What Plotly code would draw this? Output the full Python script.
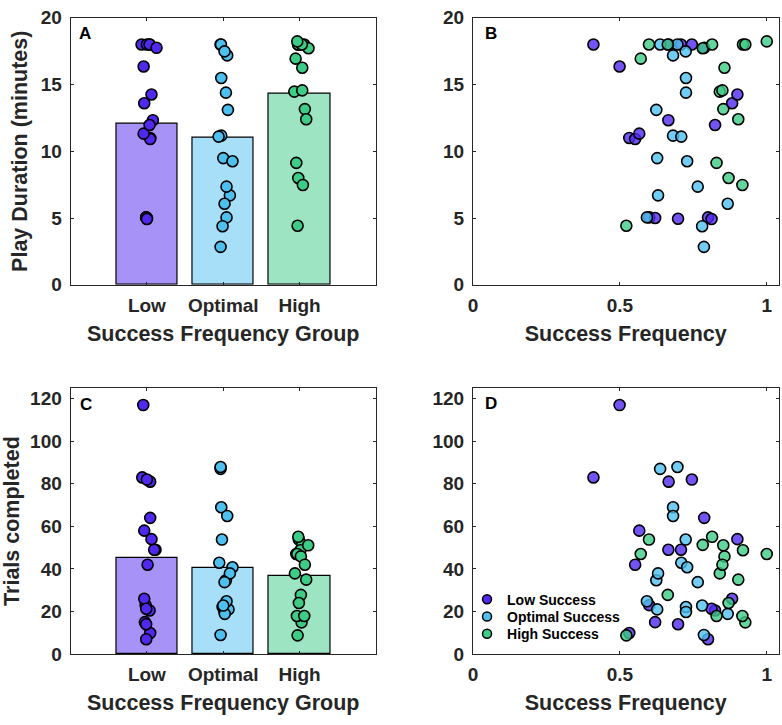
import numpy as np
import plotly.graph_objects as go

# ---------------- data ----------------
groups = ["Low", "Optimal", "High"]
legend_names = ["Low Success", "Optimal Success", "High Success"]

low_sf = [0.410, 0.499, 0.532, 0.552, 0.566, 0.665, 0.666, 0.600, 0.620, 0.698,
          0.708, 0.745, 0.787, 0.824, 0.882, 0.900, 0.800, 0.812]
low_dur = [18.0, 16.35, 11.0, 10.92, 11.32, 12.33, 18.0, 5.05, 5.0, 4.95,
           18.0, 18.0, 17.75, 11.97, 13.6, 14.25, 5.05, 4.93]
low_trials = [83, 117, 9.9, 42, 58, 49, 81, 23, 15, 14,
              49, 82, 64, 20.5, 26, 54, 7, 21.3]
low_jit_a = [-0.07, -0.043, 0.043, 0.043, -0.043, 0.078, 0.035, -0.01, 0.0, 0.0,
             0.0, 0.035, 0.126, 0.035, -0.035, 0.06, -0.01, 0.0]
low_jit_c = [-0.061, -0.048, 0.043, 0.009, -0.035, 0.113, 0.043, -0.017, -0.026, -0.01,
             0.095, 0.0, 0.043, 0.035, -0.035, 0.06, -0.009, -0.009]

opt_sf = [0.637, 0.696, 0.681, 0.724, 0.725, 0.725, 0.624, 0.681, 0.709, 0.627,
          0.729, 0.630, 0.765, 0.867, 0.592, 0.780, 0.786]
opt_dur = [18.0, 18.0, 17.18, 17.48, 15.49, 14.39, 13.1, 11.17, 11.1, 9.49,
           9.25, 6.7, 7.35, 6.07, 5.05, 4.39, 2.84]
opt_trials = [87.0, 87.9, 69.0, 53.8, 22.1, 19.8, 34.7, 64.9, 42.9, 21.0,
              40.8, 37.9, 33.8, 18.9, 24.8, 22.8, 9.0]
opt_jit_a = [-0.035, -0.03, 0.052, 0.017, -0.026, 0.035, 0.061, -0.026, -0.061, 0.0,
             0.121, 0.087, 0.043, 0.017, 0.043, -0.009, -0.035]
opt_jit_c = [-0.035, -0.035, -0.026, -0.017, -0.009, 0.017, 0.035, 0.052, -0.052, 0.069,
             0.121, 0.087, 0.017, 0.02, 0.043, 0.0, -0.035]

high_sf = [0.599, 0.663, 0.782, 0.814, 0.919, 0.927, 1.0, 0.571, 0.856, 0.840,
           0.849, 0.852, 0.903, 0.829, 0.870, 0.917, 0.522]
high_dur = [18.0, 18.0, 17.72, 18.0, 18.0, 18.0, 18.23, 16.94, 16.26, 14.47,
            14.56, 13.16, 12.4, 9.13, 8.0, 7.48, 4.42]
high_trials = [53.8, 27.8, 51.3, 55.1, 48.8, 14.9, 47.0, 47.0, 45.9, 37.9,
               42.0, 51.1, 35.0, 17.9, 24.0, 17.9, 8.8]
high_jit_a = [-0.017, 0.06, 0.117, 0.0, -0.02, 0.03, -0.03, -0.052, 0.035, -0.069,
              0.035, 0.069, 0.087, -0.043, -0.017, 0.043, -0.026]
high_jit_c = [-0.01, 0.017, 0.035, -0.017, 0.01, 0.026, -0.043, -0.03, 0.017, -0.061,
              0.069, 0.113, 0.087, -0.035, -0.009, 0.061, -0.026]

# ---------------- style ----------------
dot_rgb = [(80, 40, 240), (78, 192, 240), (60, 204, 134)]
TXT = "#262626"
FONT = "Liberation Sans, Arial, sans-serif"
W, H = 782, 725

def rgba(c, a):
    return "rgba(%d,%d,%d,%s)" % (c[0], c[1], c[2], a)

sf = [low_sf, opt_sf, high_sf]
dur = [low_dur, opt_dur, high_dur]
trials = [low_trials, opt_trials, high_trials]
jit_a = [low_jit_a, opt_jit_a, high_jit_a]
jit_c = [low_jit_c, opt_jit_c, high_jit_c]

MS, MLW = 11, 1.6

fig = go.Figure()

# Panel A & C: bars of group means + jittered dots
for ax_x, ax_y, vals, jit in [("x", "y", dur, jit_a), ("x3", "y3", trials, jit_c)]:
    means = [float(np.mean(v)) for v in vals]
    fig.add_trace(go.Bar(
        x=[1, 2, 3], y=means, width=0.8, xaxis=ax_x, yaxis=ax_y,
        marker=dict(color=[rgba(c, 0.5) for c in dot_rgb],
                    line=dict(color="black", width=1.2)),
        showlegend=False, hoverinfo="skip"))
    for g in range(3):
        xs = [g + 1 + j for j in jit[g]]
        fig.add_trace(go.Scatter(
            x=xs, y=vals[g], mode="markers", xaxis=ax_x, yaxis=ax_y,
            marker=dict(size=MS, color=rgba(dot_rgb[g], 1),
                        line=dict(color="black", width=MLW)),
            showlegend=False))

# Panel B & D: scatter vs success frequency
for ax_x, ax_y, vals in [("x2", "y2", dur), ("x4", "y4", trials)]:
    for g in range(3):
        fig.add_trace(go.Scatter(
            x=sf[g], y=vals[g], mode="markers", xaxis=ax_x, yaxis=ax_y,
            marker=dict(size=MS, color=rgba(dot_rgb[g], 0.8),
                        line=dict(color="black", width=MLW)),
            showlegend=False))

# legend entries (panel D), one small legend per entry
legend_keys = ["legend", "legend2", "legend3"]
for g in range(3):
    fig.add_trace(go.Scatter(
        x=[None], y=[None], mode="markers", xaxis="x4", yaxis="y4",
        name=legend_names[g], legend=legend_keys[g], showlegend=True,
        marker=dict(size=9, color=rgba(dot_rgb[g], 1),
                    line=dict(color="black", width=1.5))))

def px_x(p):
    return p / W

def px_y(p):
    return 1 - p / H

dom_x_left = [px_x(66), px_x(373.3)]
dom_x_right = [px_x(471), px_x(778.5)]
dom_y_top = [px_y(283), px_y(8)]
dom_y_bot = [px_y(663.3), px_y(389.3)]

tickfont = dict(family=FONT, size=19, color=TXT, weight="bold")
titlefont = dict(family=FONT, size=21.5, color=TXT, weight="bold")

common = dict(showline=True, linecolor=TXT, linewidth=1, mirror="ticks",
              ticks="inside", ticklen=3, tickwidth=1, tickcolor=TXT,
              showgrid=False, zeroline=False, tickfont=tickfont,
              ticklabeloverflow="allow")
xcommon = dict(common, ticklabelstandoff=3)
ycommon = dict(common, ticklabelstandoff=4)

xtitle_a = dict(text="Success Frequency Group", font=titlefont, standoff=11)
xtitle_b = dict(text="Success Frequency", font=titlefont, standoff=11)

legend_rows = [607.3, 625, 642.7]
legend_style = dict(xanchor="left", yanchor="middle", bgcolor="rgba(0,0,0,0)",
                    borderwidth=0,
                    font=dict(family=FONT, size=14, color="black", weight="bold"))

layout = dict(
    width=W, height=H, margin=dict(l=0, r=0, t=0, b=0),
    paper_bgcolor="white", plot_bgcolor="white",
    font=dict(family=FONT, color=TXT),
    xaxis=dict(domain=dom_x_left, anchor="y", range=[0, 4], tickvals=[1, 2, 3],
               ticktext=groups, title=xtitle_a, **xcommon),
    yaxis=dict(domain=dom_y_top, anchor="x", range=[0, 20], tickvals=[0, 5, 10, 15, 20],
               title=dict(text="Play Duration (minutes)", font=titlefont, standoff=7),
               **ycommon),
    xaxis2=dict(domain=dom_x_right, anchor="y2", range=[0, 1.04], tickvals=[0, 0.5, 1],
                ticktext=["0", "0.5", "1"], title=xtitle_b, **xcommon),
    yaxis2=dict(domain=dom_y_top, anchor="x2", range=[0, 20], tickvals=[0, 5, 10, 15, 20],
                **ycommon),
    xaxis3=dict(domain=dom_x_left, anchor="y3", range=[0, 4], tickvals=[1, 2, 3],
                ticktext=groups, title=xtitle_a, **xcommon),
    yaxis3=dict(domain=dom_y_bot, anchor="x3", range=[0, 125],
                tickvals=[0, 20, 40, 60, 80, 100, 120],
                title=dict(text="Trials completed", font=titlefont, standoff=7),
                **ycommon),
    xaxis4=dict(domain=dom_x_right, anchor="y4", range=[0, 1.04], tickvals=[0, 0.5, 1],
                ticktext=["0", "0.5", "1"], title=xtitle_b, **xcommon),
    yaxis4=dict(domain=dom_y_bot, anchor="x4", range=[0, 125],
                tickvals=[0, 20, 40, 60, 80, 100, 120], **ycommon),
    showlegend=True,
    bargap=0,
)
for key, row in zip(legend_keys, legend_rows):
    layout[key] = dict(x=px_x(465), y=px_y(row), **legend_style)
fig.update_layout(**layout)

letters = [("A", 72, 24), ("B", 481, 24), ("C", 73, 406), ("D", 481, 405)]
for t, lx, ly in letters:
    fig.add_annotation(text=t, xref="paper", yref="paper", x=px_x(lx), y=px_y(ly),
                       xanchor="left", yanchor="middle", showarrow=False,
                       font=dict(family=FONT, size=17, color="black", weight="bold"))

fig.write_html("out.html")
